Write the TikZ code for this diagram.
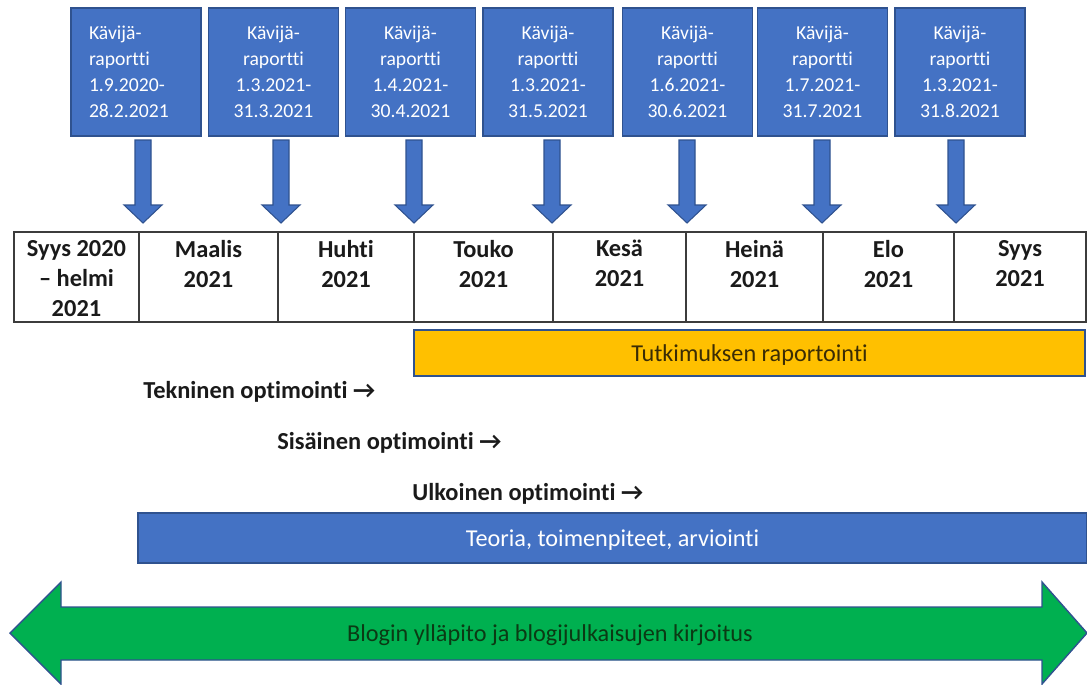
\documentclass[tikz,border=0pt]{standalone}
\usepackage{fontspec}
\setmainfont{Carlito}[Ligatures={NoCommon}]
\usepackage{tikz}
\usetikzlibrary{calc}
\definecolor{boxblue}{HTML}{4472C4}
\definecolor{edgeblue}{HTML}{2F528F}
\definecolor{amber}{HTML}{FFC000}
\definecolor{leaf}{HTML}{00B050}
\definecolor{ink}{HTML}{1A1A1A}
\definecolor{inkbrown}{HTML}{3A2C05}
\definecolor{inkgreen}{HTML}{0B3A14}
\tikzset{
  repbox/.style={draw=edgeblue, fill=boxblue, line width=0.8pt, minimum width=2.6cm, minimum height=2.56cm, text=white, align=center, inner sep=0pt, font=\fontsize{11.2}{14.7}\selectfont},
  down/.style={draw=edgeblue, fill=boxblue, line width=0.6pt},
  cell/.style={draw=ink!85, line width=0.8pt, minimum height=1.8cm, inner sep=0pt},
  celltxt/.style={text=ink, align=center, inner sep=0pt, font=\bfseries\fontsize{13.9}{17}\selectfont},
  optlab/.style={text=ink, inner sep=2pt, font=\bfseries\fontsize{13.9}{17}\selectfont},
  bar/.style={draw=edgeblue, line width=0.8pt, inner sep=0pt, text depth=0pt, font=\fontsize{13.8}{17}\selectfont},
  blog/.style={draw=edgeblue, fill=leaf, line width=0.8pt}
}

\begin{document}
\begin{tikzpicture}[x=0.02cm, y=-0.02cm]
  \useasboundingbox (0,0) rectangle (1087,684);

  % visitor reports
  \node[repbox, align=left, text width=1.88cm, inner xsep=0.36cm] (r1) at (136,72) {Kävijä-\\raportti\\1.9.2020-\\28.2.2021};
  \foreach \x/\d [count=\i from 2] in {273.5/{1.3.2021-\\31.3.2021}, 410.5/{1.4.2021-\\30.4.2021}, 548/{1.3.2021-\\31.5.2021}, 687.5/{1.6.2021-\\30.6.2021}, 822.5/{1.7.2021-\\31.7.2021}, 960/{1.3.2021-\\31.8.2021}}
    \node[repbox] (r\i) at (\x,72) {Kävijä-\\raportti\\\d};

  % block arrows down to the month borders
  \foreach \x [count=\i] in {143,281,414,552,687,822,956} {
    \coordinate (t\i) at (\x,223);
    \draw[down] (t\i) -- ++(-19,-18) -- ++(11,0) -- ++(0,-65) -- ++(16,0) -- ++(0,65) -- ++(11,0) -- cycle;
  }

  % months
  \foreach \a/\b/\t [count=\i] in {14/139/{Syys 2020\\– helmi\\2021}, 139/278/{Maalis\\2021}, 278/414/{Huhti\\2021}, 414/553/{Touko\\2021}, 553/686/{Kesä\\2021}, 686/823/{Heinä\\2021}, 823/954/{Elo\\2021}, 954/1086/{Syys\\2021}} {
    \node[cell, minimum width={(\b-\a)*0.02cm}] (c\i) at ({(\a+\b)/2},277) {};
    \node[celltxt, anchor=north] (m\i) at ({(\a+\b)/2},240) {\t};
  }

  \node[bar, fill=amber, text=inkbrown, minimum width=13.42cm, minimum height=0.92cm] (rep) at (749.5,353) {Tutkimuksen raportointi};

  \node[optlab, anchor=west] (tek) at (139.5,392) {Tekninen optimointi →};
  \node[optlab, anchor=west] (sis) at (273.5,443) {Sisäinen optimointi →};
  \node[optlab, anchor=west] (ulk) at (408.5,494) {Ulkoinen optimointi →};

  \node[bar, fill=boxblue, text=white, minimum width=18.98cm, minimum height=1cm] (teo) at (612.5,538) {Teoria, toimenpiteet, arviointi};

  % blog, both ways
  \draw[blog] (10,633) -- (61,582) -- (61,607) -- (1042,607) -- (1042,582) -- (1087,633) -- (1042,684) -- (1042,660) -- (61,660) -- (61,684) -- cycle;
  \node[text=inkgreen, inner sep=0pt, text depth=0pt, font=\fontsize{13.8}{17}\selectfont] (blg) at (550,633) {Blogin ylläpito ja blogijulkaisujen kirjoitus};
\end{tikzpicture}
\end{document}
